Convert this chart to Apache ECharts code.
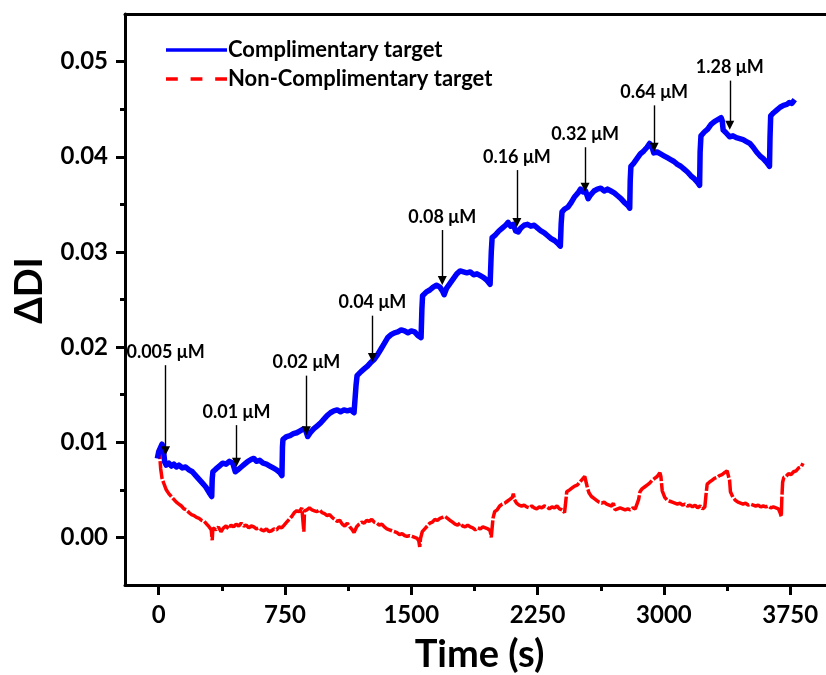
<!DOCTYPE html>
<html>
<head>
<meta charset="utf-8">
<script src="https://cdn.jsdelivr.net/npm/echarts@6/dist/echarts.min.js"></script>
<style>
  html, body { margin: 0; padding: 0; background: #fff; overflow: hidden; width: 826px; height: 675px; }
  #chart { width: 826px; height: 675px; }
</style>
</head>
<body>
<div id="chart"></div>
<script>
// Tick positions
const xMajorTicks = [0, 750, 1500, 2250, 3000, 3750];
const xMinorTicks = [375, 1125, 1875, 2625, 3375];
const yMajorTicks = [0, 0.01, 0.02, 0.03, 0.04, 0.05];
const yMinorTicks = [0.005, 0.015, 0.025, 0.035, 0.045];

// Series names
const seriesNames = ['Complimentary target', 'Non-Complimentary target'];

// Complimentary target: [time (s), ΔDI]
const complimentary = [
  [-8,0.0083],[0,0.0090],[10,0.0094],[20,0.0098],[28,0.0092],[36,0.0079],[45,0.0076],[60,0.0078],[75,0.0075],[90,0.0077],
  [105,0.0074],[120,0.0076],[140,0.0073],[160,0.0074],[180,0.0071],[200,0.0069],[220,0.0065],[240,0.0061],[260,0.0057],
  [280,0.0053],[300,0.0047],[315,0.0043],[318,0.0062],[322,0.0069],
  [340,0.0072],[360,0.0075],[380,0.0078],[400,0.0077],[420,0.0080],[440,0.0078],[455,0.0069],[470,0.0071],[490,0.0074],
  [510,0.0077],[530,0.0080],[550,0.0082],[565,0.0083],[580,0.0080],[600,0.0081],[620,0.0078],[640,0.0077],[660,0.0075],
  [680,0.0073],[700,0.0071],[720,0.0068],[732,0.0065],[735,0.0095],[738,0.0103],
  [760,0.0106],[780,0.0107],[800,0.0109],[820,0.0110],[840,0.0112],[860,0.0114],[872,0.0113],[885,0.0106],[900,0.0110],
  [920,0.0114],[940,0.0117],[960,0.0120],[980,0.0124],[1000,0.0128],[1020,0.0131],[1040,0.0133],[1060,0.0134],[1080,0.0132],
  [1100,0.0134],[1120,0.0133],[1140,0.0134],[1160,0.0131],[1168,0.0130],[1172,0.0160],[1178,0.0170],
  [1200,0.0174],[1220,0.0177],[1240,0.0180],[1260,0.0184],[1280,0.0187],[1300,0.0192],[1320,0.0198],[1340,0.0204],
  [1360,0.0210],[1380,0.0213],[1400,0.0215],[1420,0.0216],[1440,0.0218],[1460,0.0217],[1480,0.0215],[1500,0.0217],
  [1520,0.0216],[1540,0.0212],[1558,0.0210],[1563,0.0240],[1567,0.0254],
  [1590,0.0258],[1610,0.0260],[1630,0.0263],[1650,0.0265],[1670,0.0263],[1685,0.0259],[1695,0.0255],[1710,0.0262],
  [1730,0.0267],[1750,0.0272],[1770,0.0277],[1790,0.0280],[1810,0.0279],[1830,0.0278],[1850,0.0279],[1870,0.0276],
  [1890,0.0277],[1910,0.0275],[1930,0.0273],[1950,0.0270],[1968,0.0266],[1975,0.0300],[1980,0.0315],
  [2000,0.0318],[2020,0.0322],[2040,0.0325],[2060,0.0328],[2075,0.0331],[2090,0.0327],[2105,0.0329],[2120,0.0322],
  [2135,0.0321],[2150,0.0325],[2170,0.0328],[2190,0.0329],[2210,0.0327],[2230,0.0328],[2250,0.0325],[2270,0.0322],
  [2290,0.0320],[2310,0.0317],[2330,0.0314],[2350,0.0312],[2370,0.0309],[2385,0.0306],[2390,0.0330],[2395,0.0342],
  [2410,0.0345],[2430,0.0347],[2450,0.0352],[2470,0.0358],[2490,0.0362],[2505,0.0366],[2520,0.0363],[2535,0.0364],
  [2550,0.0356],[2565,0.0360],[2585,0.0364],[2605,0.0366],[2625,0.0367],[2645,0.0364],[2665,0.0366],[2685,0.0364],
  [2705,0.0362],[2725,0.0359],[2745,0.0356],[2765,0.0352],[2785,0.0349],[2797,0.0346],[2800,0.0375],[2804,0.0390],
  [2820,0.0393],[2840,0.0398],[2860,0.0403],[2880,0.0406],[2900,0.0410],[2915,0.0414],[2928,0.0411],[2940,0.0404],
  [2960,0.0405],[2980,0.0403],[3000,0.0401],[3020,0.0399],[3040,0.0397],[3060,0.0395],[3080,0.0392],[3100,0.0390],
  [3120,0.0387],[3140,0.0384],[3160,0.0380],[3180,0.0377],[3200,0.0373],[3212,0.0370],[3215,0.0405],[3220,0.0422],
  [3240,0.0426],[3260,0.0429],[3280,0.0434],[3300,0.0437],[3320,0.0439],[3340,0.0441],[3346,0.0438],[3352,0.0428],
  [3370,0.0425],[3390,0.0421],[3410,0.0422],[3430,0.0420],[3450,0.0419],[3470,0.0418],[3490,0.0416],[3510,0.0414],
  [3530,0.0410],[3550,0.0405],[3570,0.0401],[3590,0.0398],[3610,0.0394],[3627,0.0390],[3630,0.0420],[3634,0.0443],
  [3650,0.0446],[3670,0.0449],[3690,0.0452],[3710,0.0454],[3730,0.0455],[3745,0.0457],[3760,0.0456],[3777,0.0460]
];

// Non-complimentary target: [time (s), ΔDI]
const nonComplimentary = [
  [-5,0.0085],[0,0.0093],[5,0.0088],[12,0.0072],[20,0.0062],[30,0.0057],[45,0.0050],[60,0.0046],[75,0.0043],[90,0.0040],
  [105,0.0037],[120,0.0035],[135,0.0033],[150,0.0030],[165,0.0029],[180,0.0026],[195,0.0024],[210,0.0023],[225,0.0021],
  [240,0.0020],[255,0.0018],[270,0.0017],[285,0.0014],[300,0.0011],[312,0.0008],[318,-0.0003],[322,0.0010],[340,0.0008],
  [355,0.0011],[370,0.0006],[385,0.0010],[400,0.0012],[415,0.0009],[430,0.0013],[445,0.0011],[460,0.0014],[475,0.0012],
  [490,0.0015],[505,0.0012],[520,0.0013],[535,0.0010],[550,0.0012],[565,0.0011],[580,0.0009],[595,0.0010],[610,0.0008],
  [625,0.0007],[640,0.0009],[655,0.0006],[670,0.0007],[685,0.0009],[700,0.0008],[715,0.0011],[730,0.0010],[745,0.0013],
  [760,0.0016],[775,0.0019],[790,0.0022],[805,0.0026],[820,0.0028],[835,0.0027],[850,0.0031],[858,0.0030],[862,0.0006],
  [866,0.0028],[880,0.0029],[895,0.0031],[910,0.0029],[925,0.0028],[940,0.0027],[955,0.0029],[970,0.0026],[985,0.0025],
  [1000,0.0023],[1015,0.0024],[1030,0.0021],[1045,0.0019],[1060,0.0017],[1075,0.0018],[1090,0.0014],[1105,0.0012],
  [1120,0.0015],[1135,0.0011],[1150,0.0008],[1160,0.0005],[1175,0.0011],[1190,0.0014],[1205,0.0016],[1220,0.0015],
  [1235,0.0018],[1250,0.0017],[1265,0.0019],[1280,0.0016],[1295,0.0015],[1310,0.0013],[1325,0.0014],[1340,0.0011],
  [1355,0.0009],[1370,0.0008],[1385,0.0007],[1400,0.0006],[1415,0.0005],[1430,0.0003],[1445,0.0004],[1460,0.0002],
  [1475,0.0001],[1490,0.0002],[1505,0.0001],[1520,0.0000],[1535,-0.0001],[1545,-0.0004],[1550,-0.0010],[1555,-0.0001],
  [1565,0.0006],[1580,0.0009],[1595,0.0012],[1610,0.0015],[1625,0.0016],[1640,0.0019],[1655,0.0018],[1670,0.0020],
  [1685,0.0021],[1700,0.0022],[1715,0.0020],[1730,0.0018],[1745,0.0016],[1760,0.0014],[1775,0.0013],[1790,0.0015],
  [1805,0.0012],[1820,0.0011],[1835,0.0013],[1850,0.0011],[1865,0.0010],[1880,0.0008],[1895,0.0010],[1910,0.0009],
  [1925,0.0011],[1940,0.0010],[1955,0.0009],[1968,0.0007],[1975,0.0000],[1985,0.0020],[1995,0.0027],[2010,0.0029],
  [2025,0.0033],[2040,0.0035],[2055,0.0036],[2070,0.0038],[2085,0.0040],[2100,0.0042],[2106,0.0046],[2112,0.0040],
  [2125,0.0036],[2140,0.0034],[2155,0.0033],[2170,0.0034],[2185,0.0032],[2200,0.0031],[2215,0.0033],[2230,0.0031],
  [2245,0.0030],[2260,0.0032],[2275,0.0031],[2290,0.0033],[2305,0.0032],[2320,0.0030],[2335,0.0032],[2350,0.0031],
  [2365,0.0033],[2380,0.0030],[2395,0.0029],[2410,0.0026],[2415,0.0034],[2423,0.0048],[2440,0.0050],[2455,0.0052],
  [2470,0.0054],[2485,0.0055],[2500,0.0058],[2515,0.0061],[2530,0.0064],[2541,0.0066],[2546,0.0052],[2555,0.0047],
  [2570,0.0043],[2585,0.0041],[2600,0.0039],[2615,0.0037],[2630,0.0036],[2645,0.0037],[2660,0.0035],[2675,0.0034],
  [2690,0.0033],[2700,0.0036],[2710,0.0029],[2725,0.0030],[2740,0.0031],[2755,0.0030],[2770,0.0029],[2785,0.0030],
  [2800,0.0029],[2815,0.0031],[2830,0.0030],[2840,0.0032],[2850,0.0040],[2858,0.0048],[2870,0.0051],[2885,0.0053],
  [2900,0.0055],[2915,0.0057],[2930,0.0060],[2945,0.0062],[2960,0.0064],[2976,0.0068],[2982,0.0064],[2990,0.0049],
  [3005,0.0042],[3020,0.0039],[3035,0.0038],[3050,0.0037],[3065,0.0036],[3080,0.0035],[3095,0.0036],[3110,0.0034],
  [3125,0.0035],[3140,0.0033],[3155,0.0034],[3170,0.0032],[3185,0.0034],[3200,0.0031],[3215,0.0033],[3230,0.0030],
  [3243,0.0032],[3250,0.0045],[3257,0.0056],[3270,0.0058],[3285,0.0060],[3300,0.0062],[3315,0.0063],[3330,0.0065],
  [3345,0.0066],[3360,0.0068],[3375,0.0070],[3385,0.0071],[3390,0.0060],[3395,0.0048],[3410,0.0042],[3425,0.0039],
  [3440,0.0037],[3455,0.0036],[3470,0.0035],[3485,0.0036],[3500,0.0034],[3515,0.0035],[3530,0.0034],[3545,0.0033],
  [3560,0.0034],[3575,0.0032],[3590,0.0033],[3605,0.0032],[3620,0.0033],[3635,0.0031],[3650,0.0032],[3665,0.0031],
  [3680,0.0030],[3690,0.0026],[3697,0.0022],[3700,0.0040],[3705,0.0058],[3712,0.0063],[3725,0.0064],[3740,0.0067],
  [3755,0.0066],[3770,0.0069],[3785,0.0070],[3800,0.0073],[3815,0.0074],[3826,0.0078]
];

// Concentration markers: label, time of the arrow, arrow top and arrow tip (ΔDI)
const markerLabels = ['0.005 μM', '0.01 μM', '0.02 μM', '0.04 μM', '0.08 μM', '0.16 μM', '0.32 μM', '0.64 μM', '1.28 μM'];
const markerTimes  = [41, 462, 877, 1269, 1684, 2127, 2532, 2942, 3391];
const markerTops   = [0.0181, 0.0118, 0.0170, 0.0233, 0.0323, 0.0386, 0.0410, 0.0454, 0.0480];
const markerTips   = [0.0091, 0.0079, 0.0112, 0.0189, 0.0270, 0.0331, 0.0368, 0.0410, 0.0433];

const FONT = 'Lato';

const arrowLines = markerLabels.map((name, i) => [
  { name: name, coord: [markerTimes[i], markerTops[i]] },
  { coord: [markerTimes[i], markerTips[i]] }
]);

const chart = echarts.init(document.getElementById('chart'));

const baseAxisText = { fontFamily: FONT, fontWeight: 'bold', color: '#000' };
const X_MIN = -200, X_MAX = 4010;
const Y_MIN = -0.005, Y_MAX = 0.055;

// dashed legend sample for the non-complimentary trace
const dashIcon = 'path://M0,0H12V1H0Z M25,0H37V1H25Z M50,0H62V1H50Z';

// the frame continues past the right edge of the canvas
chart.setOption({
  animation: false,
  grid: { left: 125, top: 14, right: -8, bottom: 90, show: false, outerBoundsMode: 'none' },
  legend: {
    orient: 'vertical',
    left: 161, top: 34,
    itemWidth: 61, itemHeight: 3.5, itemGap: 7, symbolKeepAspect: false,
    textStyle: { fontFamily: FONT, fontWeight: 'bold', fontSize: 22, color: '#000', padding: [0, 0, 0, -4] },
    data: [
      { name: seriesNames[0], icon: 'rect', itemStyle: { color: '#0000ff' } },
      { name: seriesNames[1], icon: dashIcon, itemStyle: { color: '#ff0000' } }
    ]
  },
  xAxis: [
    {
      type: 'value', min: X_MIN, max: X_MAX, position: 'bottom',
      name: 'Time (s)', nameLocation: 'middle', nameGap: 51, nameMoveOverlap: false,
      nameTextStyle: Object.assign({ fontSize: 38 }, baseAxisText),
      axisLine: { show: true, onZero: false, lineStyle: { color: '#000', width: 3 } },
      axisTick: { show: true, inside: false, length: 10, customValues: xMajorTicks, lineStyle: { color: '#000', width: 3 } },
      axisLabel: Object.assign({ fontSize: 24, margin: 18, customValues: xMajorTicks, formatter: v => String(v) }, baseAxisText),
      splitLine: { show: false }
    },
    {
      // top frame line
      type: 'value', min: X_MIN, max: X_MAX, position: 'top',
      axisLine: { show: true, onZero: false, lineStyle: { color: '#000', width: 3 } },
      axisTick: { show: false }, axisLabel: { show: false }, splitLine: { show: false }
    },
    {
      // minor ticks along the bottom
      type: 'value', min: X_MIN, max: X_MAX, position: 'bottom',
      axisLine: { show: false, onZero: false },
      axisTick: { show: true, inside: false, length: 6, customValues: xMinorTicks, lineStyle: { color: '#000', width: 3 } },
      axisLabel: { show: false },
      splitLine: { show: false }
    }
  ],
  yAxis: [
    {
      type: 'value', min: Y_MIN, max: Y_MAX, position: 'left',
      name: 'ΔDI', nameLocation: 'middle', nameGap: 76, nameRotate: 90, nameMoveOverlap: false,
      nameTextStyle: Object.assign({ fontSize: 38, padding: [0, 0, 0, 18] }, baseAxisText),
      axisLine: { show: true, onZero: false, lineStyle: { color: '#000', width: 3 } },
      axisTick: { show: true, inside: false, length: 9, customValues: yMajorTicks, lineStyle: { color: '#000', width: 3 } },
      axisLabel: Object.assign({
        fontSize: 24, margin: 17, customValues: yMajorTicks,
        formatter: v => v.toFixed(2)
      }, baseAxisText),
      splitLine: { show: false }
    },
    {
      // minor ticks along the left side
      type: 'value', min: Y_MIN, max: Y_MAX, position: 'left',
      axisLine: { show: false, onZero: false },
      axisTick: { show: true, inside: false, length: 5, customValues: yMinorTicks, lineStyle: { color: '#000', width: 3 } },
      axisLabel: { show: false },
      splitLine: { show: false }
    }
  ],
  series: [
    {
      name: seriesNames[1], type: 'line', data: nonComplimentary,
      symbol: 'none',
      lineStyle: { color: '#ff0000', width: 3.5, type: [18, 2] },
      itemStyle: { color: '#ff0000' },
      z: 2
    },
    {
      name: seriesNames[0], type: 'line', data: complimentary,
      symbol: 'none',
      lineStyle: { color: '#0000ff', width: 5.5, join: 'round' },
      itemStyle: { color: '#0000ff' },
      z: 3,
      markLine: {
        silent: true, animation: false,
        symbol: ['none', 'triangle'], symbolSize: 9,
        lineStyle: { color: '#000', width: 1.4, type: 'solid' },
        label: {
          show: true, position: 'start', distance: 4,
          formatter: p => p.name,
          fontFamily: FONT, fontWeight: 'bold', fontSize: 18, color: '#000'
        },
        data: arrowLines
      }
    }
  ]
});
</script>
</body>
</html>
